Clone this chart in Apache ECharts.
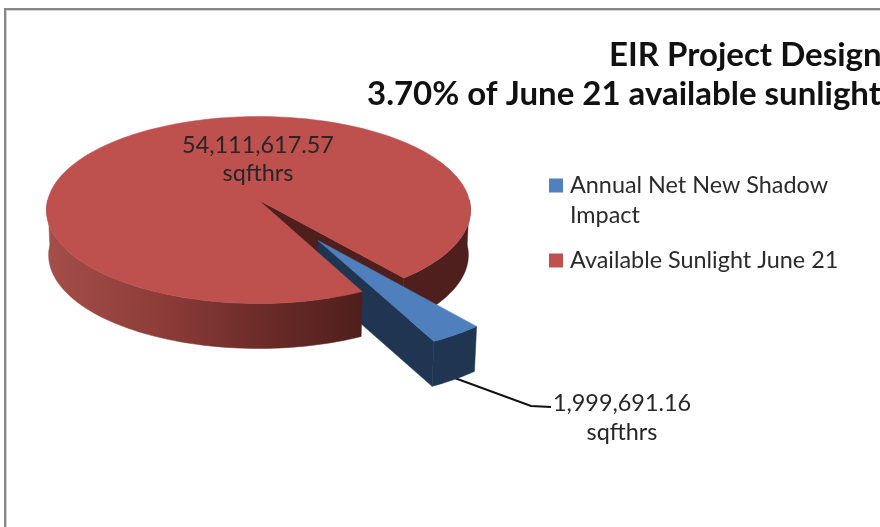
<!DOCTYPE html>
<html>
<head>
<meta charset="utf-8">
<style>html,body{margin:0;padding:0;background:#fff;overflow:hidden}#c{width:880px;height:527px;filter:blur(0.45px)}</style>
<script src="https://cdn.jsdelivr.net/npm/echarts@6/dist/echarts.min.js"></script>
</head>
<body>
<div id="c"></div>
<script>
const sliceNames = ['Annual Net New Shadow\nImpact', 'Available Sunlight June 21'];
const sliceValues = [1999691.16, 54111617.57];
const unitLabel = 'sqfthrs';
const titleLines = ['EIR Project Design', '3.70% of June 21 available sunlight'];

const FONT = 'Lato, Carlito, "Open Sans", sans-serif';
const LABEL_SIZE = 23.4, TITLE_SIZE = 33;
const BLUE = '#4F7FBC', BLUE_DARK = '#1F3552', RED = '#BE504D', RED_DARK = '#4E1F1C';
const LEGEND_BLUE = '#4F81BD', LEGEND_RED = '#C0504D';

// Projection of the unit disc to the tilted view (perspective keeps the rim an ellipse)
const CX = 258.5, CY = 210, RX = 212, RY = 93.5, DEPTH = 45, PERSP = 0.107, BOTTOM_SCALE = 0.99;
const START_DEG = 50.75, EXPLODE = 0.498;
const s = Math.sqrt(1 - PERSP * PERSP);
function project(u, v, low) {
  const d = 1 - PERSP * v;
  const k = low ? BOTTOM_SCALE : 1;
  return [CX + RX * k * u * s / d, CY + RY * (v - PERSP) / d + (low ? DEPTH : 0)];
}
const rad = a => a * Math.PI / 180;
const total = sliceValues[0] + sliceValues[1];
const sweep = 360 * sliceValues[0] / total;
const blueA = START_DEG, blueB = START_DEG + sweep, blueMid = START_DEG + sweep / 2;
const off = [EXPLODE * Math.cos(rad(blueMid)), EXPLODE * Math.sin(rad(blueMid))];

function arc(a0, a1, low, o) {
  const pts = [], n = Math.max(2, Math.ceil(Math.abs(a1 - a0) / 1.5));
  const ox = o ? o[0] : 0, oy = o ? o[1] : 0;
  for (let i = 0; i <= n; i++) {
    const a = rad(a0 + (a1 - a0) * i / n);
    pts.push(project(Math.cos(a) + ox, Math.sin(a) + oy, low));
  }
  return pts;
}
function poly(points, fill, z2) {
  return { type: 'polygon', z2, shape: { points }, style: { fill, stroke: fill, lineWidth: 0.5 } };
}
function wall(a0, a1, o) {
  return arc(a0, a1, false, o).concat(arc(a0, a1, true, o).reverse());
}
const fmt = v => v.toLocaleString('en-US', { minimumFractionDigits: 2, maximumFractionDigits: 2 });
function label(text, x, y) {
  return { type: 'text', z2: 20, style: { text, x, y, font: LABEL_SIZE + 'px ' + FONT, fill: '#262626', textAlign: 'center', textVerticalAlign: 'middle' } };
}

function renderRed(params, api) {
  const apexT = project(0, 0, false), apexB = project(0, 0, true);
  const A = arc(blueA, blueA, false)[0], A2 = arc(blueA, blueA, true)[0];
  const front = new echarts.graphic.LinearGradient(0, 0, 1, 0, [
    { offset: 0, color: '#A54E4A' }, { offset: 0.35, color: '#8E3D39' },
    { offset: 0.7, color: '#6A2B28' }, { offset: 1, color: RED_DARK }
  ]);
  return { type: 'group', children: [
    poly(wall(0, blueA), RED_DARK, 1),
    poly([apexT, A, A2, apexB], RED_DARK, 2),
    poly(wall(blueB, 180), front, 4),
    poly([apexT].concat(arc(blueB, blueA + 360, false)), RED, 5),
    label(fmt(api.value(0)), 258, 145),
    label(unitLabel, 258, 173)
  ]};
}
function renderBlue(params, api) {
  const apexT = project(off[0], off[1], false), apexB = project(off[0], off[1], true);
  const B = arc(blueB, blueB, false, off)[0], B2 = arc(blueB, blueB, true, off)[0];
  return { type: 'group', children: [
    poly([apexT, B, B2, apexB], BLUE_DARK, 3),
    poly(wall(blueA, blueB, off), BLUE_DARK, 3),
    poly([apexT].concat(arc(blueA, blueB, false, off)), BLUE, 6),
    { type: 'polyline', z2: 2, shape: { points: [[452, 377], [531, 406], [551, 407]] }, style: { stroke: '#111', lineWidth: 2, fill: null } },
    label(fmt(api.value(0)), 622, 403),
    label(unitLabel, 622, 432)
  ]};
}

const chart = echarts.init(document.getElementById('c'), null, { renderer: 'canvas' });
chart.setOption({
  animation: false,
  backgroundColor: '#fff',
  title: [
    { text: titleLines[0], left: 609, top: 39, padding: 0, textStyle: { fontFamily: FONT, fontSize: TITLE_SIZE, fontWeight: 'bold', color: '#111' } },
    { text: titleLines[1], left: 367, top: 78, padding: 0, textStyle: { fontFamily: FONT, fontSize: TITLE_SIZE, fontWeight: 'bold', color: '#111' } }
  ],
  legend: {
    orient: 'vertical', left: 544, top: 135.5, itemWidth: 14, itemHeight: 14, itemGap: 15,
    icon: 'rect', selectedMode: false,
    // a blank first line centres the first text line on the swatch, as in the reference
    formatter: name => name.indexOf('\n') >= 0 ? ' \n' + name : name,
    textStyle: { fontFamily: FONT, fontSize: LABEL_SIZE, lineHeight: 30, color: '#2b2b2b', padding: [0, 0, 0, 2] },
    data: [
      { name: sliceNames[0], itemStyle: { color: LEGEND_BLUE } },
      { name: sliceNames[1], itemStyle: { color: LEGEND_RED } }
    ]
  },
  graphic: [
    { type: 'polyline', silent: true, shape: { points: [[5, 527], [5, 9], [880, 9]] }, style: { stroke: '#878787', lineWidth: 2, fill: null } },
    { type: 'polyline', silent: true, shape: { points: [[6.5, 527], [6.5, 10.5], [880, 10.5]] }, style: { stroke: '#d0d0d0', lineWidth: 1, fill: null } }
  ],
  series: [
    { type: 'custom', name: sliceNames[1], coordinateSystem: 'none', silent: true, z: 2, itemStyle: { color: LEGEND_RED }, renderItem: renderRed, data: [sliceValues[1]], encode: { value: 0 } },
    { type: 'custom', name: sliceNames[0], coordinateSystem: 'none', silent: true, z: 2, itemStyle: { color: LEGEND_BLUE }, renderItem: renderBlue, data: [sliceValues[0]], encode: { value: 0 } }
  ]
});
</script>
</body>
</html>
